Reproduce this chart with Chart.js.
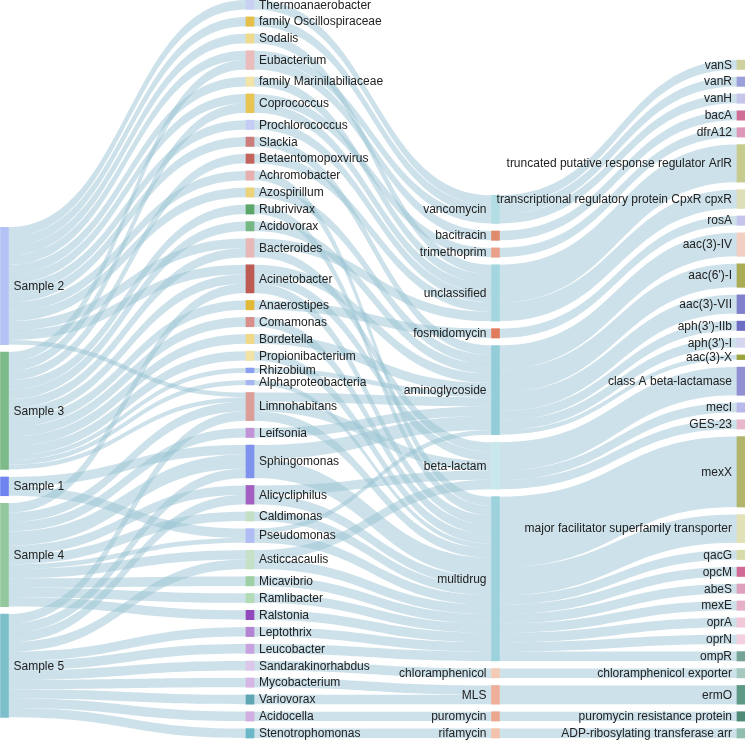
<!DOCTYPE html>
<html>
<head>
<meta charset="utf-8">
<script src="https://cdn.jsdelivr.net/npm/chart.js@4.4.1/dist/chart.umd.min.js"></script>
<style>
  html, body { margin: 0; padding: 0; background: #fff; }
</style>
</head>
<body>
<canvas id="sankey" width="745" height="741"></canvas>
<script>
// ---- data ----
const samples = ['Sample 2', 'Sample 3', 'Sample 1', 'Sample 4', 'Sample 5'];

const genera = [
  'Thermoanaerobacter', 'family Oscillospiraceae', 'Sodalis', 'Eubacterium',
  'family Marinilabiliaceae', 'Coprococcus', 'Prochlorococcus', 'Slackia',
  'Betaentomopoxvirus', 'Achromobacter', 'Azospirillum', 'Rubrivivax',
  'Acidovorax', 'Bacteroides', 'Acinetobacter', 'Anaerostipes', 'Comamonas',
  'Bordetella', 'Propionibacterium', 'Rhizobium', 'Alphaproteobacteria',
  'Limnohabitans', 'Leifsonia', 'Sphingomonas', 'Alicycliphilus', 'Caldimonas',
  'Pseudomonas', 'Asticcacaulis', 'Micavibrio', 'Ramlibacter', 'Ralstonia',
  'Leptothrix', 'Leucobacter', 'Sandarakinorhabdus', 'Mycobacterium',
  'Variovorax', 'Acidocella', 'Stenotrophomonas'
];

const drugClasses = [
  'vancomycin', 'bacitracin', 'trimethoprim', 'unclassified', 'fosmidomycin',
  'aminoglycoside', 'beta-lactam', 'multidrug', 'chloramphenicol', 'MLS',
  'puromycin', 'rifamycin'
];

const genes = [
  'vanS', 'vanR', 'vanH', 'bacA', 'dfrA12',
  'truncated putative response regulator ArlR',
  'transcriptional regulatory protein CpxR cpxR', 'rosA',
  'aac(3)-IV', "aac(6')-I", 'aac(3)-VII', "aph(3')-IIb", "aph(3')-I", 'aac(3)-X',
  'class A beta-lactamase', 'mecI', 'GES-23', 'mexX',
  'major facilitator superfamily transporter', 'qacG', 'opcM', 'abeS', 'mexE',
  'oprA', 'oprN', 'ompR', 'chloramphenicol exporter', 'ermO',
  'puromycin resistance protein', 'ADP-ribosylating transferase arr'
];

// [from, to, value]
const sampleToGenus = [
  ['Sample 2', 'Thermoanaerobacter', 1], ['Sample 2', 'family Oscillospiraceae', 1],
  ['Sample 2', 'Sodalis', 1], ['Sample 2', 'Eubacterium', 1],
  ['Sample 2', 'family Marinilabiliaceae', 1], ['Sample 2', 'Coprococcus', 1],
  ['Sample 2', 'Prochlorococcus', 1], ['Sample 2', 'Slackia', 1],
  ['Sample 2', 'Achromobacter', 1], ['Sample 2', 'Azospirillum', 1],
  ['Sample 2', 'Bacteroides', 1], ['Sample 2', 'Acinetobacter', 1],
  ['Sample 2', 'Limnohabitans', 0.5],
  ['Sample 3', 'Eubacterium', 1], ['Sample 3', 'Coprococcus', 1],
  ['Sample 3', 'Betaentomopoxvirus', 1], ['Sample 3', 'Rubrivivax', 1],
  ['Sample 3', 'Acidovorax', 1], ['Sample 3', 'Bacteroides', 1],
  ['Sample 3', 'Acinetobacter', 1], ['Sample 3', 'Anaerostipes', 1],
  ['Sample 3', 'Comamonas', 1], ['Sample 3', 'Bordetella', 1],
  ['Sample 3', 'Propionibacterium', 1], ['Sample 3', 'Rhizobium', 0.5],
  ['Sample 3', 'Alphaproteobacteria', 0.5], ['Sample 3', 'Limnohabitans', 0.5],
  ['Sample 1', 'Sphingomonas', 1], ['Sample 1', 'Pseudomonas', 1],
  ['Sample 4', 'Acinetobacter', 1], ['Sample 4', 'Limnohabitans', 1],
  ['Sample 4', 'Leifsonia', 1], ['Sample 4', 'Sphingomonas', 1.5],
  ['Sample 4', 'Alicycliphilus', 1], ['Sample 4', 'Caldimonas', 1],
  ['Sample 4', 'Pseudomonas', 0.5], ['Sample 4', 'Asticcacaulis', 1],
  ['Sample 4', 'Micavibrio', 1], ['Sample 4', 'Ramlibacter', 1],
  ['Sample 4', 'Ralstonia', 1],
  ['Sample 5', 'Limnohabitans', 1], ['Sample 5', 'Sphingomonas', 1],
  ['Sample 5', 'Alicycliphilus', 1], ['Sample 5', 'Asticcacaulis', 1],
  ['Sample 5', 'Leptothrix', 1], ['Sample 5', 'Leucobacter', 1],
  ['Sample 5', 'Sandarakinorhabdus', 1], ['Sample 5', 'Mycobacterium', 1],
  ['Sample 5', 'Variovorax', 1], ['Sample 5', 'Acidocella', 1],
  ['Sample 5', 'Stenotrophomonas', 1]
];

const genusToDrug = [
  ['Thermoanaerobacter', 'vancomycin', 1], ['family Oscillospiraceae', 'vancomycin', 1],
  ['Sodalis', 'unclassified', 1], ['Eubacterium', 'vancomycin', 1],
  ['Eubacterium', 'bacitracin', 1], ['family Marinilabiliaceae', 'unclassified', 1],
  ['Coprococcus', 'trimethoprim', 1], ['Coprococcus', 'unclassified', 1],
  ['Prochlorococcus', 'unclassified', 1], ['Slackia', 'aminoglycoside', 1],
  ['Betaentomopoxvirus', 'unclassified', 1], ['Achromobacter', 'multidrug', 1],
  ['Azospirillum', 'aminoglycoside', 1], ['Rubrivivax', 'multidrug', 1],
  ['Acidovorax', 'aminoglycoside', 1], ['Bacteroides', 'unclassified', 1],
  ['Bacteroides', 'beta-lactam', 1], ['Acinetobacter', 'aminoglycoside', 1],
  ['Acinetobacter', 'beta-lactam', 1], ['Acinetobacter', 'multidrug', 1],
  ['Anaerostipes', 'fosmidomycin', 1], ['Comamonas', 'multidrug', 1],
  ['Bordetella', 'aminoglycoside', 1], ['Propionibacterium', 'multidrug', 1],
  ['Rhizobium', 'aminoglycoside', 0.5], ['Alphaproteobacteria', 'multidrug', 0.5],
  ['Limnohabitans', 'aminoglycoside', 1], ['Limnohabitans', 'beta-lactam', 1],
  ['Limnohabitans', 'multidrug', 1], ['Leifsonia', 'aminoglycoside', 1],
  ['Sphingomonas', 'aminoglycoside', 1.5], ['Sphingomonas', 'multidrug', 2],
  ['Alicycliphilus', 'beta-lactam', 1], ['Alicycliphilus', 'multidrug', 1],
  ['Caldimonas', 'multidrug', 1], ['Pseudomonas', 'aminoglycoside', 0.5],
  ['Pseudomonas', 'multidrug', 1], ['Asticcacaulis', 'beta-lactam', 1],
  ['Asticcacaulis', 'multidrug', 1], ['Micavibrio', 'multidrug', 1],
  ['Ramlibacter', 'multidrug', 1], ['Ralstonia', 'multidrug', 1],
  ['Leptothrix', 'multidrug', 1], ['Leucobacter', 'multidrug', 1],
  ['Sandarakinorhabdus', 'chloramphenicol', 1], ['Mycobacterium', 'MLS', 1],
  ['Variovorax', 'MLS', 1], ['Acidocella', 'puromycin', 1],
  ['Stenotrophomonas', 'rifamycin', 1]
];

const drugToGene = [
  ['vancomycin', 'vanS', 1], ['vancomycin', 'vanR', 1], ['vancomycin', 'vanH', 1],
  ['bacitracin', 'bacA', 1], ['trimethoprim', 'dfrA12', 1],
  ['unclassified', 'truncated putative response regulator ArlR', 4],
  ['unclassified', 'transcriptional regulatory protein CpxR cpxR', 2],
  ['fosmidomycin', 'rosA', 1],
  ['aminoglycoside', 'aac(3)-IV', 2.5], ['aminoglycoside', "aac(6')-I", 2.5],
  ['aminoglycoside', 'aac(3)-VII', 2], ['aminoglycoside', "aph(3')-IIb", 1],
  ['aminoglycoside', "aph(3')-I", 1], ['aminoglycoside', 'aac(3)-X', 0.5],
  ['beta-lactam', 'class A beta-lactamase', 3], ['beta-lactam', 'mecI', 1],
  ['beta-lactam', 'GES-23', 1],
  ['multidrug', 'mexX', 7.5], ['multidrug', 'major facilitator superfamily transporter', 3],
  ['multidrug', 'qacG', 1], ['multidrug', 'opcM', 1], ['multidrug', 'abeS', 1],
  ['multidrug', 'mexE', 1], ['multidrug', 'oprA', 1], ['multidrug', 'oprN', 1],
  ['multidrug', 'ompR', 1],
  ['chloramphenicol', 'chloramphenicol exporter', 1], ['MLS', 'ermO', 2],
  ['puromycin', 'puromycin resistance protein', 1],
  ['rifamycin', 'ADP-ribosylating transferase arr', 1]
];

// ---- styles ----
const sampleColors = ['#b3c2f4', '#7cba8a', '#6f84ee', '#93c89d', '#7cbfcb'];
const genusColors = [
  '#c8d1f4', '#e5bf48', '#efd98a', '#ebbcbc', '#f3e4a8', '#e8c451', '#c5cdf5',
  '#cd7c7c', '#c4625d', '#e6b0b0', '#ecd27a', '#5da66a', '#74b782', '#e8b8b8',
  '#bd5a52', '#e3b836', '#d98e8a', '#f0d888', '#f2e2a6', '#8a9ff0', '#a6b6f2',
  '#dc9e98', '#c193d6', '#7f93ee', '#a45fc2', '#c3e0c5', '#b0bdf5', '#c5e2c8',
  '#9fcfa5', '#b3dbb6', '#9447bd', '#b583d3', '#c9a3e0', '#dcc6ea', '#d6b6e5',
  '#5fa6b5', '#d3aee3', '#6ab7c7'
];
const drugColors = [
  '#b2dde4', '#e08a6e', '#e8a088', '#a3d6df', '#e07c5c', '#93cdd9', '#c8e8ec',
  '#9dd2dc', '#f3cbb5', '#eeb09a', '#eba88e', '#f2c2ac'
];
const geneColors = [
  '#cfd29e', '#9ca0da', '#c6c6ea', '#d06d96', '#de97b8', '#c8cb8e', '#dedfb8',
  '#c5c4ec', '#f1cfc3', '#a9ab55', '#8080cc', '#6d6dc4', '#d6d6f0', '#9ca33c',
  '#9090d2', '#b8b8ea', '#eab8cc', '#b3b46c', '#e2e1b8', '#d8dcaa', '#d06b96',
  '#dda0bd', '#e8b0c8', '#f0c8d8', '#f2d0e0', '#75a497', '#a7c8bf', '#5d9986',
  '#4f8a76', '#91bdb0'
];
const linkColor = 'rgba(153, 195, 211, 0.5)';

// ---- layout (value units) ----
const columns = [samples, genera, drugClasses, genes];
const colColors = [sampleColors, genusColors, drugColors, geneColors];
const links = [...sampleToGenus, ...genusToDrug, ...drugToGene];
const nodeGap = 0.8;
const sampleTop = 24.2;

const nodes = {};
columns.forEach((names, c) => names.forEach((name, i) => {
  nodes[name] = { name, col: c, color: colColors[c][i], inV: 0, outV: 0, ins: [], outs: [] };
}));
links.forEach(([s, t, v]) => {
  const l = { s: nodes[s], t: nodes[t], v };
  nodes[s].outV += v; nodes[s].outs.push(l);
  nodes[t].inV += v; nodes[t].ins.push(l);
});
const colTotals = columns.map(names =>
  names.reduce((a, n) => a + Math.max(nodes[n].inV, nodes[n].outV), 0) + (names.length - 1) * nodeGap);
const yMax = Math.max(...colTotals);
columns.forEach((names, c) => {
  let y = c === 0 ? sampleTop : yMax - colTotals[c];
  names.forEach(n => {
    const nd = nodes[n];
    nd.v = Math.max(nd.inV, nd.outV);
    nd.y0 = y; nd.y1 = y + nd.v;
    y = nd.y1 + nodeGap;
  });
});
Object.values(nodes).forEach(nd => {
  nd.outs.sort((a, b) => a.t.y0 - b.t.y0);
  nd.ins.sort((a, b) => a.s.y0 - b.s.y0);
  let y = nd.y0;
  nd.outs.forEach(l => { l.sy0 = y; y += l.v; l.sy1 = y; });
  y = nd.y0;
  nd.ins.forEach(l => { l.ty0 = y; y += l.v; l.ty1 = y; });
});

const nodeList = Object.values(nodes);
const allLinks = nodeList.flatMap(nd => nd.outs);
const barHalf = 4;

const linkPlugin = {
  id: 'sankeyLinks',
  beforeDatasetsDraw(chart) {
    const { ctx, scales: { x, y } } = chart;
    ctx.save();
    ctx.fillStyle = linkColor;
    allLinks.forEach(l => {
      const x0 = x.getPixelForValue(l.s.col) + barHalf;
      const x1 = x.getPixelForValue(l.t.col) - barHalf;
      const xm = (x0 + x1) / 2;
      const a0 = y.getPixelForValue(l.sy0), a1 = y.getPixelForValue(l.sy1);
      const b0 = y.getPixelForValue(l.ty0), b1 = y.getPixelForValue(l.ty1);
      ctx.beginPath();
      ctx.moveTo(x0, a0);
      ctx.bezierCurveTo(xm, a0, xm, b0, x1, b0);
      ctx.lineTo(x1, b1);
      ctx.bezierCurveTo(xm, b1, xm, a1, x0, a1);
      ctx.closePath();
      ctx.fill();
    });
    ctx.restore();
  },
  afterDatasetsDraw(chart) {
    const { ctx, scales: { x, y } } = chart;
    ctx.save();
    ctx.font = '12px Arial, "Liberation Sans", sans-serif';
    ctx.fillStyle = '#222';
    ctx.textBaseline = 'middle';
    nodeList.forEach(nd => {
      const px = x.getPixelForValue(nd.col);
      const py = y.getPixelForValue((nd.y0 + nd.y1) / 2);
      if (nd.col < 2) {
        ctx.textAlign = 'left';
        ctx.fillText(nd.name, px + barHalf + 5, py + 0.5);
      } else {
        ctx.textAlign = 'right';
        ctx.fillText(nd.name, px - barHalf - 5, py + 0.5);
      }
    });
    ctx.restore();
  }
};

new Chart(document.getElementById('sankey'), {
  type: 'bar',
  data: {
    datasets: [{
      data: nodeList.map(nd => ({ x: nd.col, y: [nd.y0, nd.y1] })),
      backgroundColor: nodeList.map(nd => nd.color),
      borderWidth: 0,
      barThickness: 8,
      clip: false
    }]
  },
  options: {
    responsive: false,
    animation: false,
    layout: { padding: { left: 4.5, right: 4, top: 0, bottom: 3 } },
    scales: {
      x: { type: 'linear', min: 0, max: 3, offset: false, display: false },
      y: { type: 'linear', min: 0, max: yMax, reverse: true, display: false }
    },
    plugins: { legend: { display: false }, tooltip: { enabled: false } }
  },
  plugins: [linkPlugin]
});
</script>
</body>
</html>
